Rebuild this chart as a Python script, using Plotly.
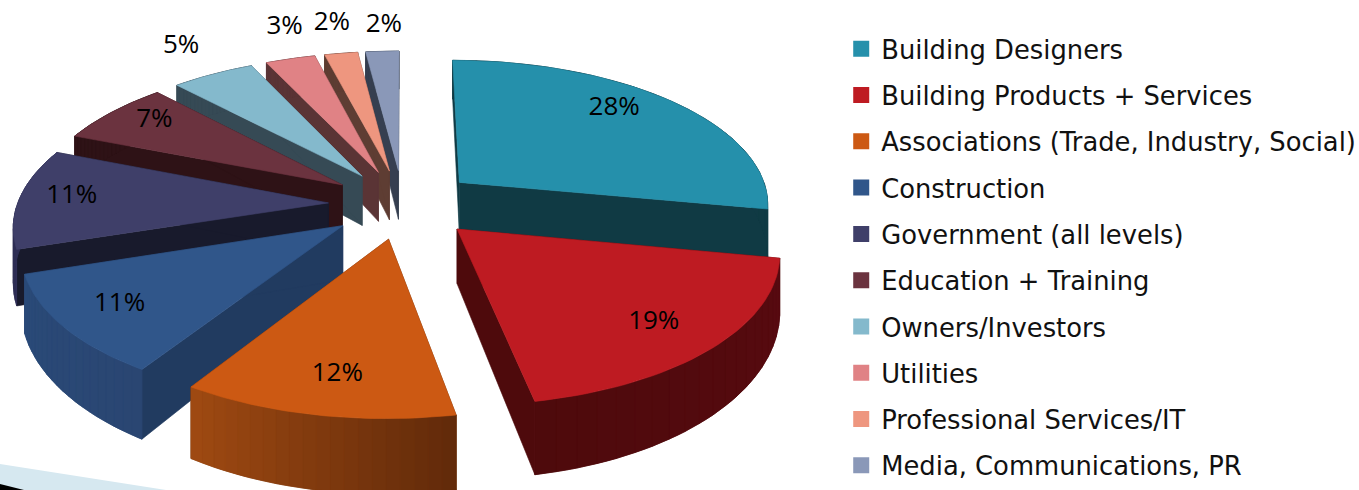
import numpy as np
import plotly.graph_objects as go

categories = ["Building Designers", "Building Products + Services",
              "Associations (Trade, Industry, Social)", "Construction",
              "Government (all levels)", "Education + Training",
              "Owners/Investors", "Utilities", "Professional Services/IT",
              "Media, Communications, PR"]
values = [28, 19, 12, 11, 11, 7, 5, 3, 2, 2]
labels = ["28%", "19%", "12%", "11%", "11%", "7%", "5%", "3%", "2%", "2%"]

top_colors = ["#2590AB", "#BE1B22", "#CC5913", "#30568A", "#3F3F69",
              "#6B333F", "#84B9CC", "#E08285", "#EE967F", "#8A98B8"]
radial_colors = ["#103A44", "#4E0A0C", "#612A0A", "#213B60", "#181A2C",
                 "#2E1216", "#364A55", "#5A3435", "#5E3D33", "#363F50"]
arc_start = ["#103A44", "#4E0A0C", "#A04A12", "#2A4A78", "#2F2F55",
             "#2E1216", "#364A55", "#5A3435", "#5E3D33", "#363F50"]
arc_end = ["#103A44", "#580A10", "#612A0A", "#2A4672", "#2F2F55",
           "#2E1216", "#364A55", "#5A3435", "#5E3D33", "#363F50"]

# style: explode and label placement
pull = 0.24
label_r = [0.72, 0.72, 0.62, 0.74, 0.85, 0.85, 1.25, 1.3, 1.32, 1.32]
label_da = [-6, 0, 0, 0, 0, 0, 0, 0, 0, 0]
label_nudge_x = [15, 18, -9, -21, 6, 10, 1, 17, 4, 6]
label_nudge_y = [-7, 10, 33, 6, -3, -2, -5, -2, 2, 7]

# projection of the tilted disc on to the page
CX, CY, A, B, K, H = 403, 204, 311, 144.3, 0.137, 52
BANDS = 20


def project(u, v):
    s = 1 / (1 + K * v)
    return CX + A * u * s, CY - B * v * s, H * s * s


def hex_rgb(c):
    return np.array([int(c[i:i + 2], 16) for i in (1, 3, 5)], float)


def mix(c1, c2, t):
    r = hex_rgb(c1) * (1 - t) + hex_rgb(c2) * t
    return "#%02x%02x%02x" % tuple(int(round(x)) for x in r)


def poly(xs, ys, color, **kw):
    xs, ys = list(xs), list(ys)
    return go.Scatter(x=xs + xs[:1], y=ys + ys[:1], mode="lines", fill="toself", fillcolor=color,
                      line=dict(color=color, width=0.6), hoverinfo="skip",
                      showlegend=False, **kw)


frac = np.array(values) / sum(values) * 360
ends = np.cumsum(frac)
starts = ends - frac
mids = (starts + ends) / 2

fig = go.Figure()
order = np.argsort(-np.cos(np.radians(mids)))
for i in order:
    a0, a1, am = starts[i], ends[i], np.radians(mids[i])
    ou, ov = pull * np.sin(am), pull * np.cos(am)
    th = np.radians(np.linspace(a0, a1, 41))
    px, py, ph = project(ou + np.sin(th), ov + np.cos(th))
    ax, ay, ah = project(ou, ov)
    # radial walls
    for k in (0, -1):
        fig.add_trace(poly([ax, px[k], px[k], ax], [ay, py[k], py[k] + ph[k], ay + ah],
                           radial_colors[i]))
    # outer wall: a solid base, then shaded bands over it
    fig.add_trace(poly(np.r_[px, px[::-1]], np.r_[py, (py + ph)[::-1]],
                       mix(arc_end[i], arc_start[i], 0.5)))
    edges = np.linspace(0, len(th) - 1, BANDS + 1).astype(int)
    for b in range(BANDS):
        j0, j1 = edges[b], edges[b + 1]
        xs = np.r_[px[j0:j1 + 1], px[j0:j1 + 1][::-1]]
        ys = np.r_[py[j0:j1 + 1], (py + ph)[j0:j1 + 1][::-1]]
        t = (b + 0.5) / BANDS
        fig.add_trace(poly(xs, ys, mix(arc_end[i], arc_start[i], t)))
    fig.add_trace(poly(np.r_[ax, px], np.r_[ay, py], top_colors[i]))

# labels
lx, ly = [], []
for i in range(len(values)):
    am = np.radians(mids[i])
    a = np.radians(mids[i] + label_da[i])
    x, y, _ = project(pull * np.sin(am) + label_r[i] * np.sin(a),
                      pull * np.cos(am) + label_r[i] * np.cos(a))
    lx.append(x + label_nudge_x[i])
    ly.append(y + label_nudge_y[i])
fig.add_trace(go.Scatter(x=lx, y=ly, mode="text", text=labels, showlegend=False, hoverinfo="skip",
                         textfont=dict(family="Open Sans", size=26, color="#000000")))

# legend entries
for i, c in enumerate(categories):
    fig.add_trace(go.Scatter(x=[None], y=[None], mode="markers", name=c, legendgroup=c,
                             marker=dict(symbol="square", size=20.5, color=top_colors[i])))

fig.update_layout(
    width=1359, height=490, margin=dict(l=0, r=0, t=0, b=0, autoexpand=False),
    paper_bgcolor="#FFFFFF", plot_bgcolor="#FFFFFF",
    xaxis=dict(range=[0, 1359], visible=False, fixedrange=True),
    yaxis=dict(range=[490, 0], visible=False, fixedrange=True),
    legend=dict(x=0.6190, y=0.948, xanchor="left", yanchor="top", tracegroupgap=9.75,
                itemwidth=30, font=dict(family="DejaVu Sans", size=25.8, color="#111111"),
                bgcolor="rgba(0,0,0,0)"),
    shapes=[
        dict(type="path", path="M0,464 L166,490 L0,490 Z", fillcolor="#D6E8F0", line_width=0, layer="below"),
        dict(type="path", path="M0,484 L24,490 L0,490 Z", fillcolor="#000000", line_width=0, layer="below"),
    ],
)
fig.write_html("out.html", config={"displayModeBar": False},
               post_script="document.body.style.margin='0';document.body.style.overflow='hidden';")
